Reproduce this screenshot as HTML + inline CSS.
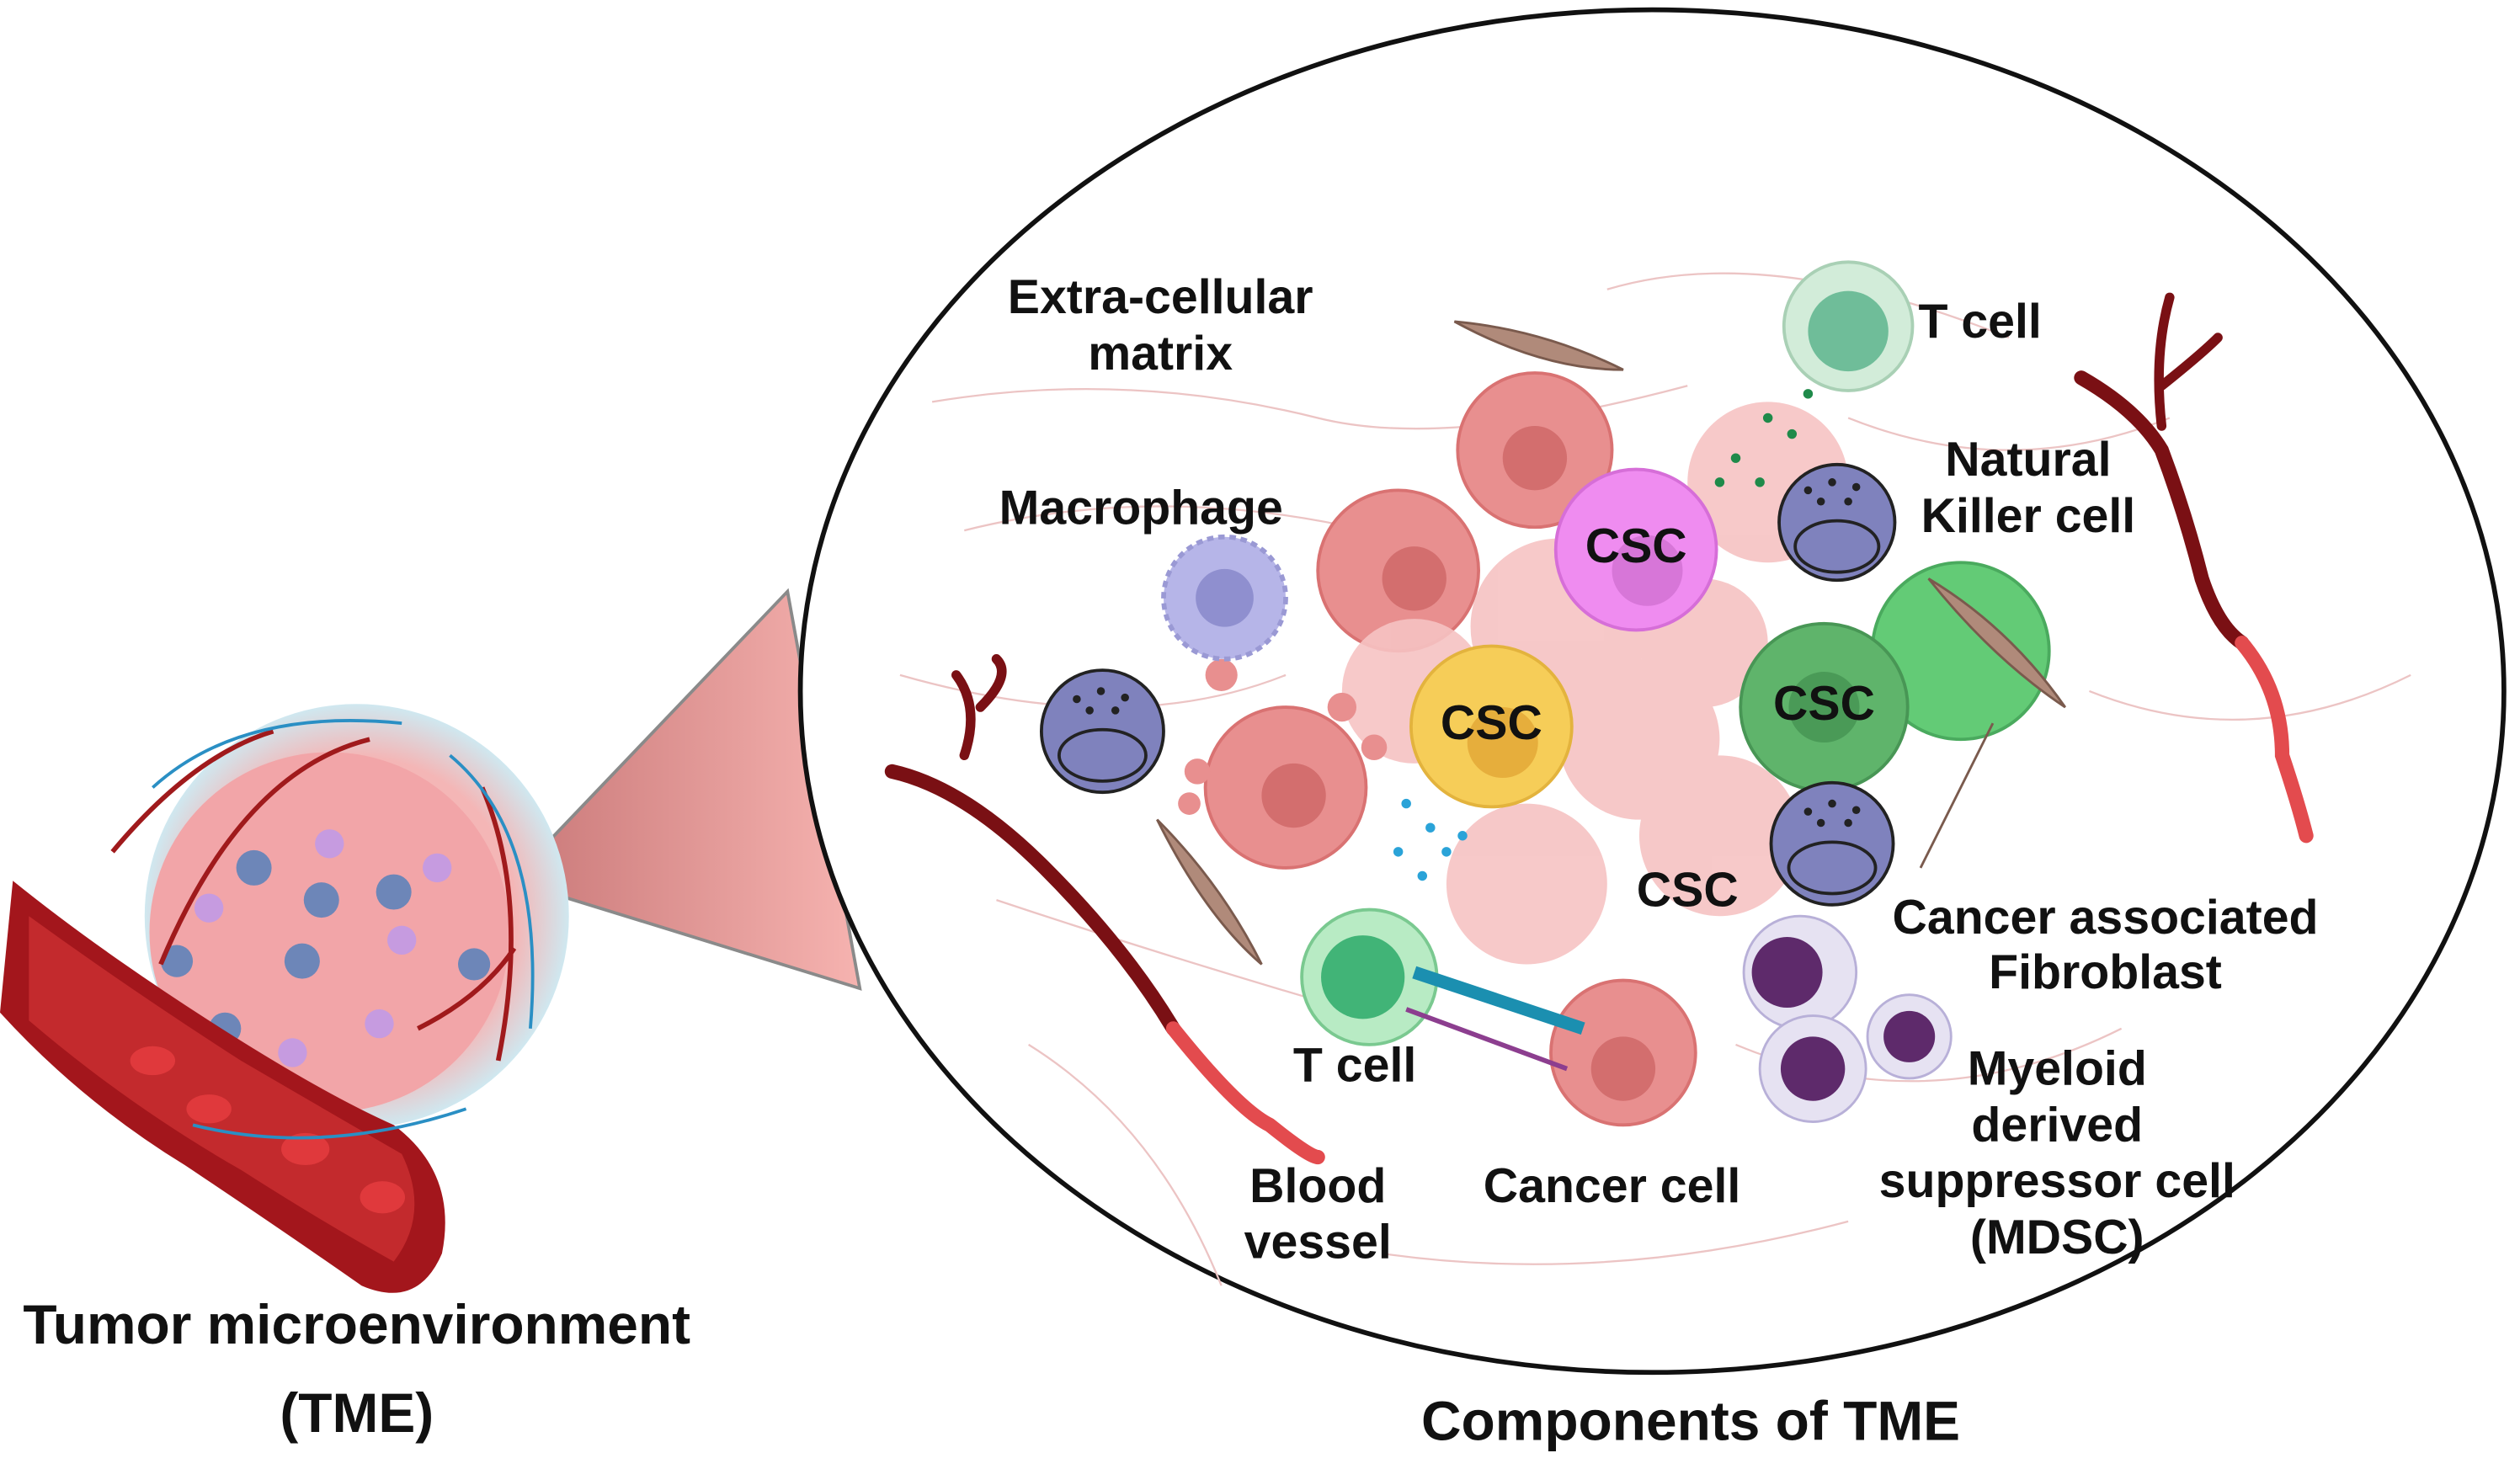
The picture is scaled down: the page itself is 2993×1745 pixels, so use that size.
<!DOCTYPE html>
<html><head><meta charset="utf-8"><style>
html,body{margin:0;padding:0;background:#fff;}
svg{display:block;}
text{font-family:"Liberation Sans",sans-serif;font-weight:bold;fill:#111;text-anchor:middle;dominant-baseline:middle;}
</style></head><body>
<svg width="2993" height="1745" viewBox="0 0 1568 914" xmlns="http://www.w3.org/2000/svg">
<defs>
<linearGradient id="tri" x1="0" y1="0" x2="1" y2="0">
<stop offset="0" stop-color="#c97878"/><stop offset="1" stop-color="#f6b3b0"/></linearGradient>
<radialGradient id="tum" cx="0.5" cy="0.5" r="0.5"><stop offset="0.75" stop-color="#f4b6b6"/><stop offset="1" stop-color="#cfe8f0"/></radialGradient>
</defs>
<rect width="1568" height="914" fill="#fff"/>
<polygon points="318,548 490,368 535,615" fill="url(#tri)" stroke="#8a8a8a" stroke-width="2"/>
<circle cx="222" cy="570" r="132" fill="url(#tum)"/>
<circle cx="205" cy="580" r="112" fill="#f2a5a8"/>
<g fill="#6d86b8"><circle cx="158" cy="540" r="11"/><circle cx="200" cy="560" r="11"/><circle cx="245" cy="555" r="11"/><circle cx="110" cy="598" r="10"/><circle cx="188" cy="598" r="11"/><circle cx="295" cy="600" r="10"/><circle cx="140" cy="640" r="10"/></g>
<g fill="#c69be0"><circle cx="130" cy="565" r="9"/><circle cx="205" cy="525" r="9"/><circle cx="272" cy="540" r="9"/><circle cx="250" cy="585" r="9"/><circle cx="182" cy="655" r="9"/><circle cx="236" cy="637" r="9"/></g>
<path d="M8,548 Q60,590 130,635 Q200,680 245,700 Q285,730 275,780 Q260,815 225,800 Q175,765 115,725 Q50,685 0,630 Z" fill="#a3161c"/>
<path d="M18,570 Q80,615 150,660 Q210,695 250,718 Q268,755 245,785 Q200,760 150,728 Q80,688 18,635 Z" fill="#c32a2d"/>
<g fill="#e0393c"><ellipse cx="95" cy="660" rx="14" ry="9"/><ellipse cx="130" cy="690" rx="14" ry="9"/><ellipse cx="190" cy="715" rx="15" ry="10"/><ellipse cx="238" cy="745" rx="14" ry="10"/></g>
<g stroke="#a01a1c" stroke-width="3" fill="none"><path d="M70,530 Q120,470 170,455"/><path d="M100,600 Q150,480 230,460"/><path d="M300,490 Q330,560 310,660"/><path d="M260,640 Q300,620 320,590"/></g>
<g stroke="#2a8fc4" stroke-width="2" fill="none"><path d="M95,490 Q150,440 250,450"/><path d="M280,470 Q340,520 330,640"/><path d="M120,700 Q200,720 290,690"/></g>
<ellipse cx="1028" cy="430" rx="530" ry="424" fill="#fff" stroke="#111" stroke-width="3"/>
<g stroke="#ecc4c4" stroke-width="1.2" fill="none">
<path d="M580,250 Q700,230 820,260 Q900,280 1050,240"/><path d="M600,330 Q720,300 850,330"/><path d="M620,560 Q740,600 880,640"/><path d="M1080,650 Q1200,700 1320,640"/><path d="M1000,180 Q1100,150 1250,210"/><path d="M560,420 Q700,460 800,420"/><path d="M860,780 Q1000,800 1150,760"/><path d="M1300,430 Q1400,470 1500,420"/><path d="M640,650 Q720,700 760,800"/><path d="M1150,260 Q1250,300 1350,260"/>
</g>
<g fill="none" stroke-linecap="round">
<path d="M555,480 Q600,490 650,540 Q700,590 730,640" stroke="#7a1014" stroke-width="9"/>
<path d="M730,640 Q770,690 790,700 Q815,720 820,720" stroke="#e34b4e" stroke-width="9"/>
<path d="M600,470 Q610,440 595,420 M610,440 Q630,420 620,410" stroke="#7a1014" stroke-width="6"/>
<path d="M1295,235 Q1330,255 1345,280 Q1360,320 1370,360 Q1380,390 1395,400" stroke="#7a1014" stroke-width="9"/>
<path d="M1395,400 Q1420,430 1420,470 Q1430,500 1435,520" stroke="#e34b4e" stroke-width="9"/>
<path d="M1345,265 Q1340,220 1350,185 M1345,240 Q1370,220 1380,210" stroke="#7a1014" stroke-width="6"/>
</g>
<g fill="#e88f8f" stroke="#d97272" stroke-width="2">
<circle cx="955" cy="280" r="48"/><circle cx="870" cy="355" r="50"/><circle cx="800" cy="490" r="50"/><circle cx="1010" cy="655" r="45"/>
</g>
<g fill="#f6c3c3" opacity="0.9"><circle cx="970" cy="390" r="55"/><circle cx="1020" cy="460" r="50"/><circle cx="950" cy="550" r="50"/><circle cx="1070" cy="520" r="50"/><circle cx="880" cy="430" r="45"/><circle cx="1100" cy="300" r="50"/><circle cx="1060" cy="400" r="40"/></g>
<g fill="#d36e6e"><circle cx="955" cy="285" r="20"/><circle cx="880" cy="360" r="20"/><circle cx="805" cy="495" r="20"/><circle cx="1010" cy="665" r="20"/></g>
<g fill="#e88f8f"><circle cx="745" cy="480" r="8"/><circle cx="760" cy="420" r="10"/><circle cx="835" cy="440" r="9"/><circle cx="855" cy="465" r="8"/><circle cx="740" cy="500" r="7"/></g>
<circle cx="1018" cy="342" r="50" fill="#ef8cf0" stroke="#d66ed8" stroke-width="2"/>
<circle cx="1025" cy="355" r="22" fill="#d776d8"/>
<circle cx="928" cy="452" r="50" fill="#f6cd58" stroke="#e3b33d" stroke-width="2"/>
<circle cx="935" cy="462" r="22" fill="#e6ae3c"/>
<circle cx="1220" cy="405" r="55" fill="#63cb76" stroke="#4aaa5e" stroke-width="2"/>
<circle cx="1135" cy="440" r="52" fill="#5fb46b" stroke="#489655" stroke-width="2"/>
<circle cx="1135" cy="440" r="22" fill="#4a9a57"/>
<circle cx="1150" cy="203" r="40" fill="#d2ecd9" stroke="#a9d0b5" stroke-width="2"/><circle cx="1150" cy="206" r="25" fill="#6fbd99"/>
<circle cx="852" cy="608" r="42" fill="#b8ebc4" stroke="#7ac990" stroke-width="2"/><circle cx="848" cy="608" r="26" fill="#41b477"/>
<path d="M880,605 L985,640" stroke="#1b8fb0" stroke-width="8"/><path d="M875,628 L975,665" stroke="#8c3e8f" stroke-width="3"/>
<g fill="#7f82bd" stroke="#222" stroke-width="2">
<circle cx="1143" cy="325" r="36"/><circle cx="686" cy="455" r="38"/><circle cx="1140" cy="525" r="38"/></g>
<g fill="none" stroke="#222" stroke-width="2"><ellipse cx="1143" cy="340" rx="26" ry="16"/><ellipse cx="686" cy="470" rx="27" ry="16"/><ellipse cx="1140" cy="540" rx="27" ry="16"/></g>
<g fill="#222"><circle cx="1125" cy="305" r="2.5"/><circle cx="1140" cy="300" r="2.5"/><circle cx="1155" cy="303" r="2.5"/><circle cx="1133" cy="312" r="2.5"/><circle cx="1150" cy="312" r="2.5"/>
<circle cx="670" cy="435" r="2.5"/><circle cx="685" cy="430" r="2.5"/><circle cx="700" cy="434" r="2.5"/><circle cx="678" cy="442" r="2.5"/><circle cx="694" cy="442" r="2.5"/>
<circle cx="1125" cy="505" r="2.5"/><circle cx="1140" cy="500" r="2.5"/><circle cx="1155" cy="504" r="2.5"/><circle cx="1133" cy="512" r="2.5"/><circle cx="1150" cy="512" r="2.5"/></g>
<circle cx="762" cy="372" r="38" fill="#b6b5e8" stroke="#9a99d4" stroke-width="3" stroke-dasharray="4 3"/>
<circle cx="762" cy="372" r="18" fill="#8f8fcf"/>
<g fill="#b08a7a" stroke="#7a5a4d" stroke-width="1.5">
<path d="M905,200 Q960,205 1010,230 Q960,230 905,200Z"/><path d="M720,510 Q760,550 785,600 Q750,570 720,510Z"/>
<path d="M1200,360 Q1250,390 1285,440 Q1240,410 1200,360Z"/><path d="M1240,450 Q1215,500 1195,540 Q1220,490 1240,450Z"/>
</g>
<g fill="#1f8a4a"><circle cx="1100" cy="260" r="3"/><circle cx="1115" cy="270" r="3"/><circle cx="1080" cy="285" r="3"/><circle cx="1125" cy="245" r="3"/><circle cx="1095" cy="300" r="3"/><circle cx="1070" cy="300" r="3"/></g>
<g fill="#2aa3d8"><circle cx="875" cy="500" r="3"/><circle cx="890" cy="515" r="3"/><circle cx="870" cy="530" r="3"/><circle cx="900" cy="530" r="3"/><circle cx="910" cy="520" r="3"/><circle cx="885" cy="545" r="3"/></g>
<g fill="#e6e2f2" stroke="#b8b0d8" stroke-width="1.5"><circle cx="1120" cy="605" r="35"/><circle cx="1128" cy="665" r="33"/><circle cx="1188" cy="645" r="26"/></g>
<g fill="#5e2a6b"><circle cx="1112" cy="605" r="22"/><circle cx="1128" cy="665" r="20"/><circle cx="1188" cy="645" r="16"/></g>
<g font-size="30">
<text x="722" y="187">Extra-cellular</text><text x="722" y="222">matrix</text>
<text x="1232" y="202">T cell</text>
<text x="1262" y="288">Natural</text><text x="1262" y="323">Killer cell</text>
<text x="710" y="318">Macrophage</text>
<text x="1018" y="342">CSC</text><text x="928" y="452">CSC</text><text x="1135" y="440">CSC</text><text x="1050" y="556">CSC</text>
<text x="1310" y="573">Cancer associated</text><text x="1310" y="607">Fibroblast</text>
<text x="1280" y="667">Myeloid</text><text x="1280" y="702">derived</text><text x="1280" y="737">suppressor cell</text><text x="1280" y="772">(MDSC)</text>
<text x="843" y="665">T cell</text>
<text x="820" y="740">Blood</text><text x="820" y="775">vessel</text>
<text x="1003" y="740">Cancer cell</text>
</g>
<g font-size="34.5"><text x="222" y="827">Tumor microenvironment</text><text x="222" y="882">(TME)</text><text x="1052" y="887">Components of TME</text></g>
</svg>
</body></html>
